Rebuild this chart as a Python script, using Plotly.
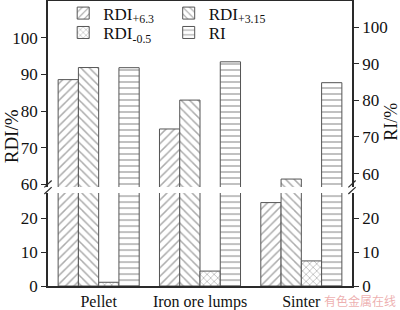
import plotly.graph_objects as go

categories = ["Pellet", "Iron ore lumps", "Sinter"]
rdi_63 = [88.6, 75.1, 24.6]
rdi_315 = [91.9, 83.0, 61.4]
rdi_05 = [1.1, 4.4, 7.4]
ri = [88.9, 90.5, 84.8]

FONT = "Liberation Serif"
LINE = "#2a2a2a"
BAR_LINE = "#555555"
PAT = "#5a5a5a"
TXT = "#111111"

fig = go.Figure()

series = [
    ("RDI<sub>+6.3</sub>", rdi_63, "/", -0.4, "legend", False),
    ("RDI<sub>+3.15</sub>", rdi_315, "\\", -0.2, "legend2", False),
    ("RDI<sub>-0.5</sub>", rdi_05, "x", 0.0, "legend3", False),
    ("RI", ri, "-", 0.2, "legend4", True),
]

for name, vals, shape, off, leg, right in series:
    for lower in (True, False):
        if right:
            ya = "y3" if lower else "y4"
        else:
            ya = "y" if lower else "y2"
        xa = "x" if lower else "x2"
        fig.add_trace(go.Bar(
            x=categories, y=vals, name=name, xaxis=xa, yaxis=ya,
            width=0.2, offset=off,
            marker=dict(color="white",
                        line=dict(color=BAR_LINE, width=1),
                        pattern=dict(shape=shape, fgcolor=PAT, bgcolor="white",
                                     size=6 if shape != "x" else 5, solidity=0.25)),
            showlegend=lower, legend=leg,
        ))

low_dom = [0, 0.326]
up_dom = [0.347, 1]

yax_common = dict(showline=True, linecolor=LINE, linewidth=1.5, ticks="outside",
                  ticklen=5, tickcolor=LINE, tickwidth=1.2, showgrid=False, zeroline=False,
                  automargin=False,
                  tickfont=dict(family=FONT, size=17, color=TXT))

leg_common = dict(xanchor="left", yanchor="middle", bgcolor="rgba(0,0,0,0)",
                  font=dict(family=FONT, size=17, color=TXT))

fig.update_layout(
    width=400, height=310,
    margin=dict(l=48, r=48, t=1, b=24, autoexpand=False),
    paper_bgcolor="white", plot_bgcolor="white",
    barmode="overlay",
    font=dict(family=FONT, size=16, color=TXT),
    xaxis=dict(domain=[0, 1], anchor="y", range=[-0.5, 2.5], showline=True, linecolor=LINE,
               linewidth=1.5, ticks="", showgrid=False, automargin=False,
               tickfont=dict(family=FONT, size=16, color=TXT)),
    xaxis2=dict(domain=[0, 1], anchor="y2", matches="x", range=[-0.5, 2.5], side="top",
                showline=True, linecolor=LINE, linewidth=1.5, ticks="", showticklabels=False,
                showgrid=False, automargin=False),
    yaxis=dict(domain=low_dom, anchor="x", range=[0, 27.4], tickvals=[0, 10, 20], **yax_common),
    yaxis2=dict(domain=up_dom, anchor="x2", range=[59.2, 110.1], tickvals=[60, 70, 80, 90, 100], **yax_common),
    yaxis3=dict(domain=low_dom, anchor="x", overlaying="y", side="right", range=[0, 27.4],
                tickvals=[0, 10, 20], **yax_common),
    yaxis4=dict(domain=up_dom, anchor="x2", overlaying="y2", side="right", range=[56.3, 107.1],
                tickvals=[60, 70, 80, 90, 100], **yax_common),
    legend=dict(x=0.05, y=0.956, **leg_common),
    legend2=dict(x=0.397, y=0.956, **leg_common),
    legend3=dict(x=0.05, y=0.888, **leg_common),
    legend4=dict(x=0.397, y=0.888, **leg_common),
    showlegend=True,
)

# break marks
for xp in (0, 1):
    for yp in (0.335, 0.358):
        fig.add_shape(type="line", xref="paper", yref="paper",
                      x0=xp - 0.012, x1=xp + 0.012, y0=yp - 0.012, y1=yp + 0.012,
                      line=dict(color=LINE, width=1.2))

fig.add_annotation(text="RDI/%", xref="paper", yref="paper", x=-0.122, y=0.525,
                   xanchor="center", yanchor="middle",
                   textangle=-90, showarrow=False, font=dict(family=FONT, size=19, color=TXT))
fig.add_annotation(text="RI/%", xref="paper", yref="paper", x=1.13, y=0.575,
                   xanchor="center", yanchor="middle",
                   textangle=-90, showarrow=False, font=dict(family=FONT, size=18, color=TXT))
fig.add_annotation(text="有色金属在线", xref="paper", yref="paper", x=1.025, y=-0.05,
                   xanchor="center", yanchor="middle",
                   showarrow=False, font=dict(family="Noto Sans CJK SC", size=12, color="rgba(230,140,140,0.7)"))

fig.write_html("out.html")
